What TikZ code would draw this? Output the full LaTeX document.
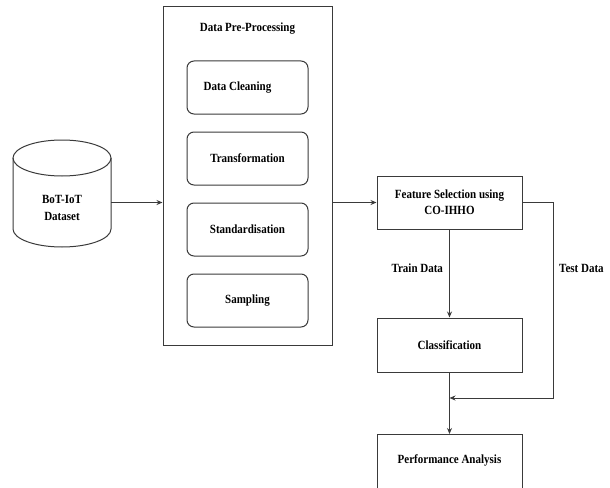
\documentclass[tikz,border=0pt]{standalone}
\usepackage{fontspec}
\setmainfont{Liberation Serif}[FakeStretch=0.88]
\usetikzlibrary{arrows.meta}
\definecolor{ln}{HTML}{3A3A3A}
\begin{document}
\begin{tikzpicture}[x=1pt,y=-1pt,
  font=\fontsize{12.5}{14}\selectfont\bfseries,
  box/.style={draw=ln, line width=1pt, minimum width=145pt, minimum height=53pt, align=center},
  rbox/.style={draw=ln, line width=1pt, rounded corners=7pt, minimum width=121pt, minimum height=53pt},
  arr/.style={draw=ln, line width=1pt, -{Stealth[length=6pt,width=5pt]}},
  lbl/.style={inner sep=0pt}]
\useasboundingbox (0,0) rectangle (610,487);
% cylinder
\node[minimum width=98pt, minimum height=107pt, inner sep=0pt] (db) at (62,193.5) {};
\draw[ln, line width=1pt] (62,158) ellipse [x radius=49pt, y radius=18pt];
\draw[ln, line width=1pt] (13,158) -- (13,229) arc[start angle=180, end angle=360, x radius=49pt, y radius=18pt] -- (111,158);
\node[align=center, lbl] (dbt) at (62,207.5) {BoT-IoT\\[3pt]Dataset};
% pre-processing
\node[draw=ln, line width=1pt, minimum width=169pt, minimum height=338pt] (pre) at (247.5,176) {};
\node[lbl] (pret) at (247.5,29) {Data Pre-Processing};
\node[rbox] (clean) at (247.5,87.5) {Data Cleaning\hspace*{20pt}};
\node[rbox] (trans) at (247.5,158.5) {Transformation};
\node[rbox] (std) at (247.5,229.5) {Standardisation};
\node[rbox] (samp) at (247.5,300.5) {Sampling};
% right column
\node[box] (fs) at (449.5,202.5) {Feature Selection using\\[2pt]CO-IHHO};
\node[box, minimum height=54pt] (cls) at (449.5,345) {Classification};
\node[box, minimum height=60pt, anchor=north] (perf) at (449.5,434) {};
\node[lbl] (perft) at (449.5,460) {Performance Analysis};
\coordinate (tr) at (553,202.5);
\coordinate (mj) at (449.5,398);
% connectors
\draw[arr] (db.east |- fs.west) -- (pre.west |- fs.west);
\draw[arr] (pre.east |- fs.west) -- (fs.west);
\draw[arr] (fs.south) -- (cls.north) node[lbl, pos=0.44, left=6pt] {Train Data};
\draw[arr] (cls.south) -- (perf.north);
\draw[arr] (fs.east) -- (tr) |- (mj);
\node[lbl, anchor=west] (testl) at (559,268) {Test Data};
\end{tikzpicture}
\end{document}
